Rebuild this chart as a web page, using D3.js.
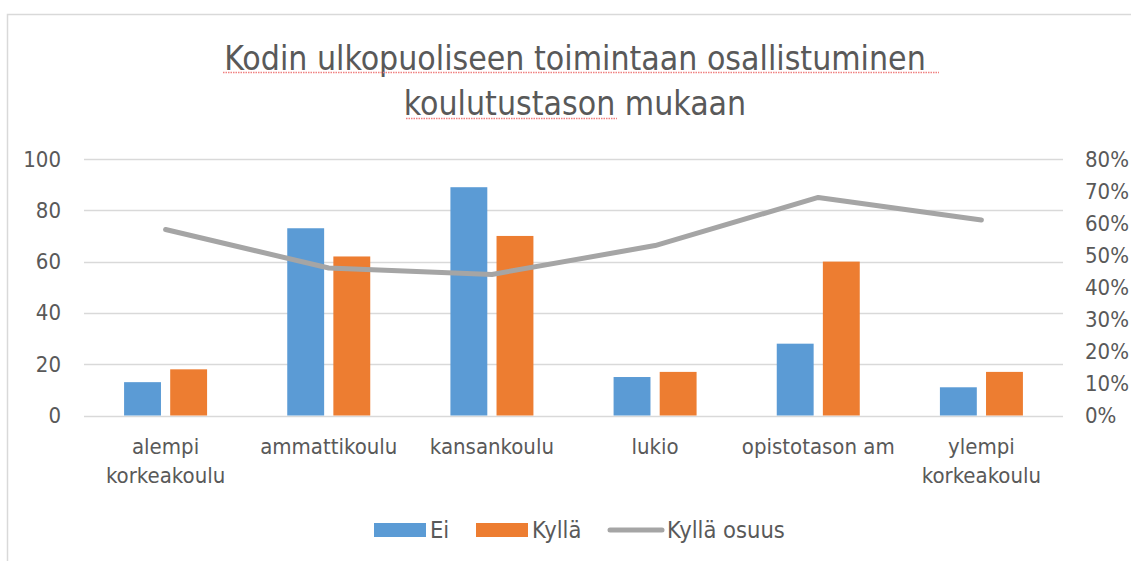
<!DOCTYPE html>
<html>
<head>
<meta charset="utf-8">
<script src="https://cdn.jsdelivr.net/npm/d3@7"></script>
<style>
  body { margin: 0; background: #fff; }
  text { font-family: "Liberation Sans Narrow", "DejaVu Sans Condensed", "Roboto", sans-serif; fill: #595959; }
</style>
</head>
<body>
<div id="container"></div>
<script>
// data
const categories = ["alempi korkeakoulu", "ammattikoulu", "kansankoulu", "lukio", "opistotason am", "ylempi korkeakoulu"];
const ei = [13, 73, 89, 15, 28, 11];
const kylla = [18, 62, 70, 17, 60, 17];
const kyllaOsuus = [0.58, 0.46, 0.44, 0.53, 0.68, 0.61];
const leftTicks = [0, 20, 40, 60, 80, 100];
const rightTicks = [0, 0.1, 0.2, 0.3, 0.4, 0.5, 0.6, 0.7, 0.8];
const titleLines = ["Kodin ulkopuoliseen toimintaan osallistuminen", "koulutustason mukaan"];

const W = 1131, H = 561;
const blue = "#5B9BD5", orange = "#ED7D31", gray = "#A5A5A5", grid = "#D9D9D9";

const svg = d3.select("#container").append("svg")
    .attr("width", W)
    .attr("height", H);

// chart frame
svg.append("path")
    .attr("d", `M7.5,${H} V14.5 H${W}`)
    .attr("fill", "none")
    .attr("stroke", grid)
    .attr("stroke-width", 1.5);

// scales
const x = d3.scaleBand().domain(categories).range([84, 1063]);
const y = d3.scaleLinear().domain([0, 100]).range([415.5, 159]);
const y2 = d3.scaleLinear().domain([0, 0.8]).range([415.5, 159]);
const bw = x.bandwidth();
const x1 = d3.scaleBand().domain(["Ei", "Kyllä"]).range([bw / 2 - 41.5, bw / 2 + 41.5]).paddingInner(0.2);

// title
const title = svg.append("g");
titleLines.forEach((t, i) => {
    title.append("text")
        .attr("x", 575)
        .attr("y", 70 + i * 45)
        .attr("text-anchor", "middle")
        .style("font-size", "33.5px")
        .text(t);
});
// spellcheck squiggles under the title
const squiggle = [[223, 939, 72.5], [406, 617, 118.5]];
squiggle.forEach(s => {
    svg.append("line")
        .attr("x1", s[0]).attr("x2", s[1])
        .attr("y1", s[2]).attr("y2", s[2])
        .attr("stroke", "#F08080")
        .attr("stroke-width", 1.3)
        .attr("stroke-dasharray", "1.5,1");
});

// gridlines
svg.append("g")
    .selectAll("line")
    .data(leftTicks)
    .enter()
    .append("line")
    .attr("x1", 84)
    .attr("x2", 1063)
    .attr("y1", d => Math.round(y(d)) + 0.5)
    .attr("y2", d => Math.round(y(d)) + 0.5)
    .attr("stroke", grid)
    .attr("stroke-width", 1.5);

// axes
const leftAxis = svg.append("g")
    .attr("transform", "translate(84,0)")
    .call(d3.axisLeft(y).tickValues(leftTicks).tickSize(0).tickPadding(23));
leftAxis.select(".domain").remove();

const rightAxis = svg.append("g")
    .attr("transform", "translate(1063,0)")
    .call(d3.axisRight(y2).tickValues(rightTicks).tickSize(0).tickPadding(22).tickFormat(d3.format(".0%")));
rightAxis.select(".domain").remove();

svg.selectAll(".tick text")
    .attr("fill", "#595959")
    .style("font-size", "22px")
    .style("font-family", "\"Liberation Sans Narrow\", \"DejaVu Sans Condensed\", sans-serif");

// bars
const groups = svg.selectAll(".cat")
    .data(categories)
    .enter()
    .append("g")
    .attr("class", "cat")
    .attr("transform", d => `translate(${x(d)},0)`);

groups.append("rect")
    .attr("x", x1("Ei"))
    .attr("y", (d, i) => y(ei[i]))
    .attr("width", x1.bandwidth())
    .attr("height", (d, i) => y(0) - y(ei[i]))
    .attr("fill", blue);

groups.append("rect")
    .attr("x", x1("Kyllä"))
    .attr("y", (d, i) => y(kylla[i]))
    .attr("width", x1.bandwidth())
    .attr("height", (d, i) => y(0) - y(kylla[i]))
    .attr("fill", orange);

// category labels, wrapped when too wide for the band
groups.each(function(d) {
    const g = d3.select(this);
    const t = g.append("text")
        .attr("x", bw / 2)
        .attr("y", 454)
        .attr("text-anchor", "middle")
        .style("font-size", "22px")
        .text(d);
    if (t.node().getComputedTextLength() > bw - 4 && d.includes(" ")) {
        const words = d.split(" ");
        t.text(null);
        words.forEach((w, i) => {
            t.append("tspan")
                .attr("x", bw / 2)
                .attr("y", 454 + i * 29)
                .text(w);
        });
    }
});

// share line
const line = d3.line()
    .x((d, i) => x(categories[i]) + bw / 2)
    .y(d => y2(d));

svg.append("path")
    .datum(kyllaOsuus)
    .attr("d", line)
    .attr("fill", "none")
    .attr("stroke", gray)
    .attr("stroke-width", 5)
    .attr("stroke-linecap", "round")
    .attr("stroke-linejoin", "round");

// legend
const legend = svg.append("g").attr("transform", "translate(0,530)");
legend.append("rect").attr("x", 374).attr("y", -7).attr("width", 52).attr("height", 14).attr("fill", blue);
legend.append("text").attr("x", 430).attr("y", 8).style("font-size", "23.5px").text("Ei");
legend.append("rect").attr("x", 476).attr("y", -7).attr("width", 52).attr("height", 14).attr("fill", orange);
legend.append("text").attr("x", 532).attr("y", 8).style("font-size", "23.5px").text("Kyllä");
legend.append("line").attr("x1", 610).attr("x2", 662).attr("y1", 0).attr("y2", 0)
    .attr("stroke", gray).attr("stroke-width", 5).attr("stroke-linecap", "round");
legend.append("text").attr("x", 667).attr("y", 8).style("font-size", "23.5px").text("Kyllä osuus");
</script>
</body>
</html>
